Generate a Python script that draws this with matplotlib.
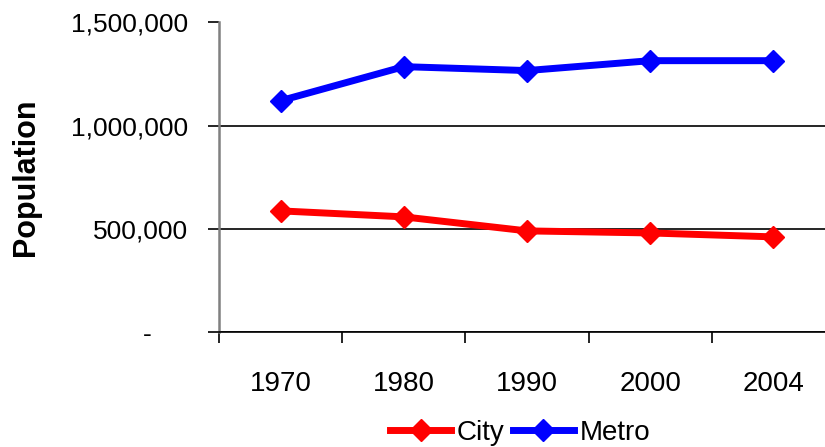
import matplotlib
matplotlib.use("Agg")
import matplotlib.pyplot as plt
from matplotlib.ticker import FuncFormatter

# data
years = ["1970", "1980", "1990", "2000", "2004"]
city = [587000, 558000, 490000, 480000, 461000]
metro = [1121000, 1286000, 1267000, 1315000, 1315000]

plt.rcParams['font.family'] = ['Liberation Sans', 'DejaVu Sans']

fig = plt.figure(figsize=(8.25, 4.47), dpi=100)
ax = fig.add_axes([219/825, 1 - 332/447, (835-219)/825, (332-22.5)/447])

x = range(len(years))
ax.plot(x, city, color='red', lw=5, marker='D', markersize=11, label='City', clip_on=False)
ax.plot(x, metro, color='blue', lw=5, marker='D', markersize=11, label='Metro', clip_on=False)

ax.set_xlim(-0.5, 4.5)
ax.set_ylim(0, 1500000)
ax.set_yticks([0, 500000, 1000000, 1500000])
ax.yaxis.set_major_formatter(FuncFormatter(lambda v, p: "-     " if v == 0 else f"{int(v):,}"))
ax.grid(axis='y', color='black', lw=1.2)
ax.set_axisbelow(True)

# category labels between boundary ticks
ax.set_xticks([i - 0.5 for i in range(len(years) + 1)])
ax.set_xticklabels([])
ax.set_xticks(list(x), minor=True)
ax.set_xticklabels(years, minor=True)
ax.tick_params(axis='x', which='minor', length=0, pad=28, labelsize=20)
ax.tick_params(axis='x', which='major', length=8, color='black', width=1.2)
ax.tick_params(axis='y', length=8, width=1.2, labelsize=19, pad=14, color='black')

for s in ['top', 'right']:
    ax.spines[s].set_visible(False)
ax.spines['left'].set_color('gray')
ax.spines['left'].set_linewidth(1.8)
ax.spines['bottom'].set_color('black')
ax.spines['bottom'].set_linewidth(1.2)

ax.set_ylabel("Population", fontsize=22, fontweight='bold', labelpad=22)

fig.legend(loc='center', bbox_to_anchor=(520/825, 1 - 433/447), ncol=2, frameon=False,
           fontsize=20, handlelength=2.2, handletextpad=0.2, columnspacing=0.3)

fig.savefig("out.png", dpi=100)
